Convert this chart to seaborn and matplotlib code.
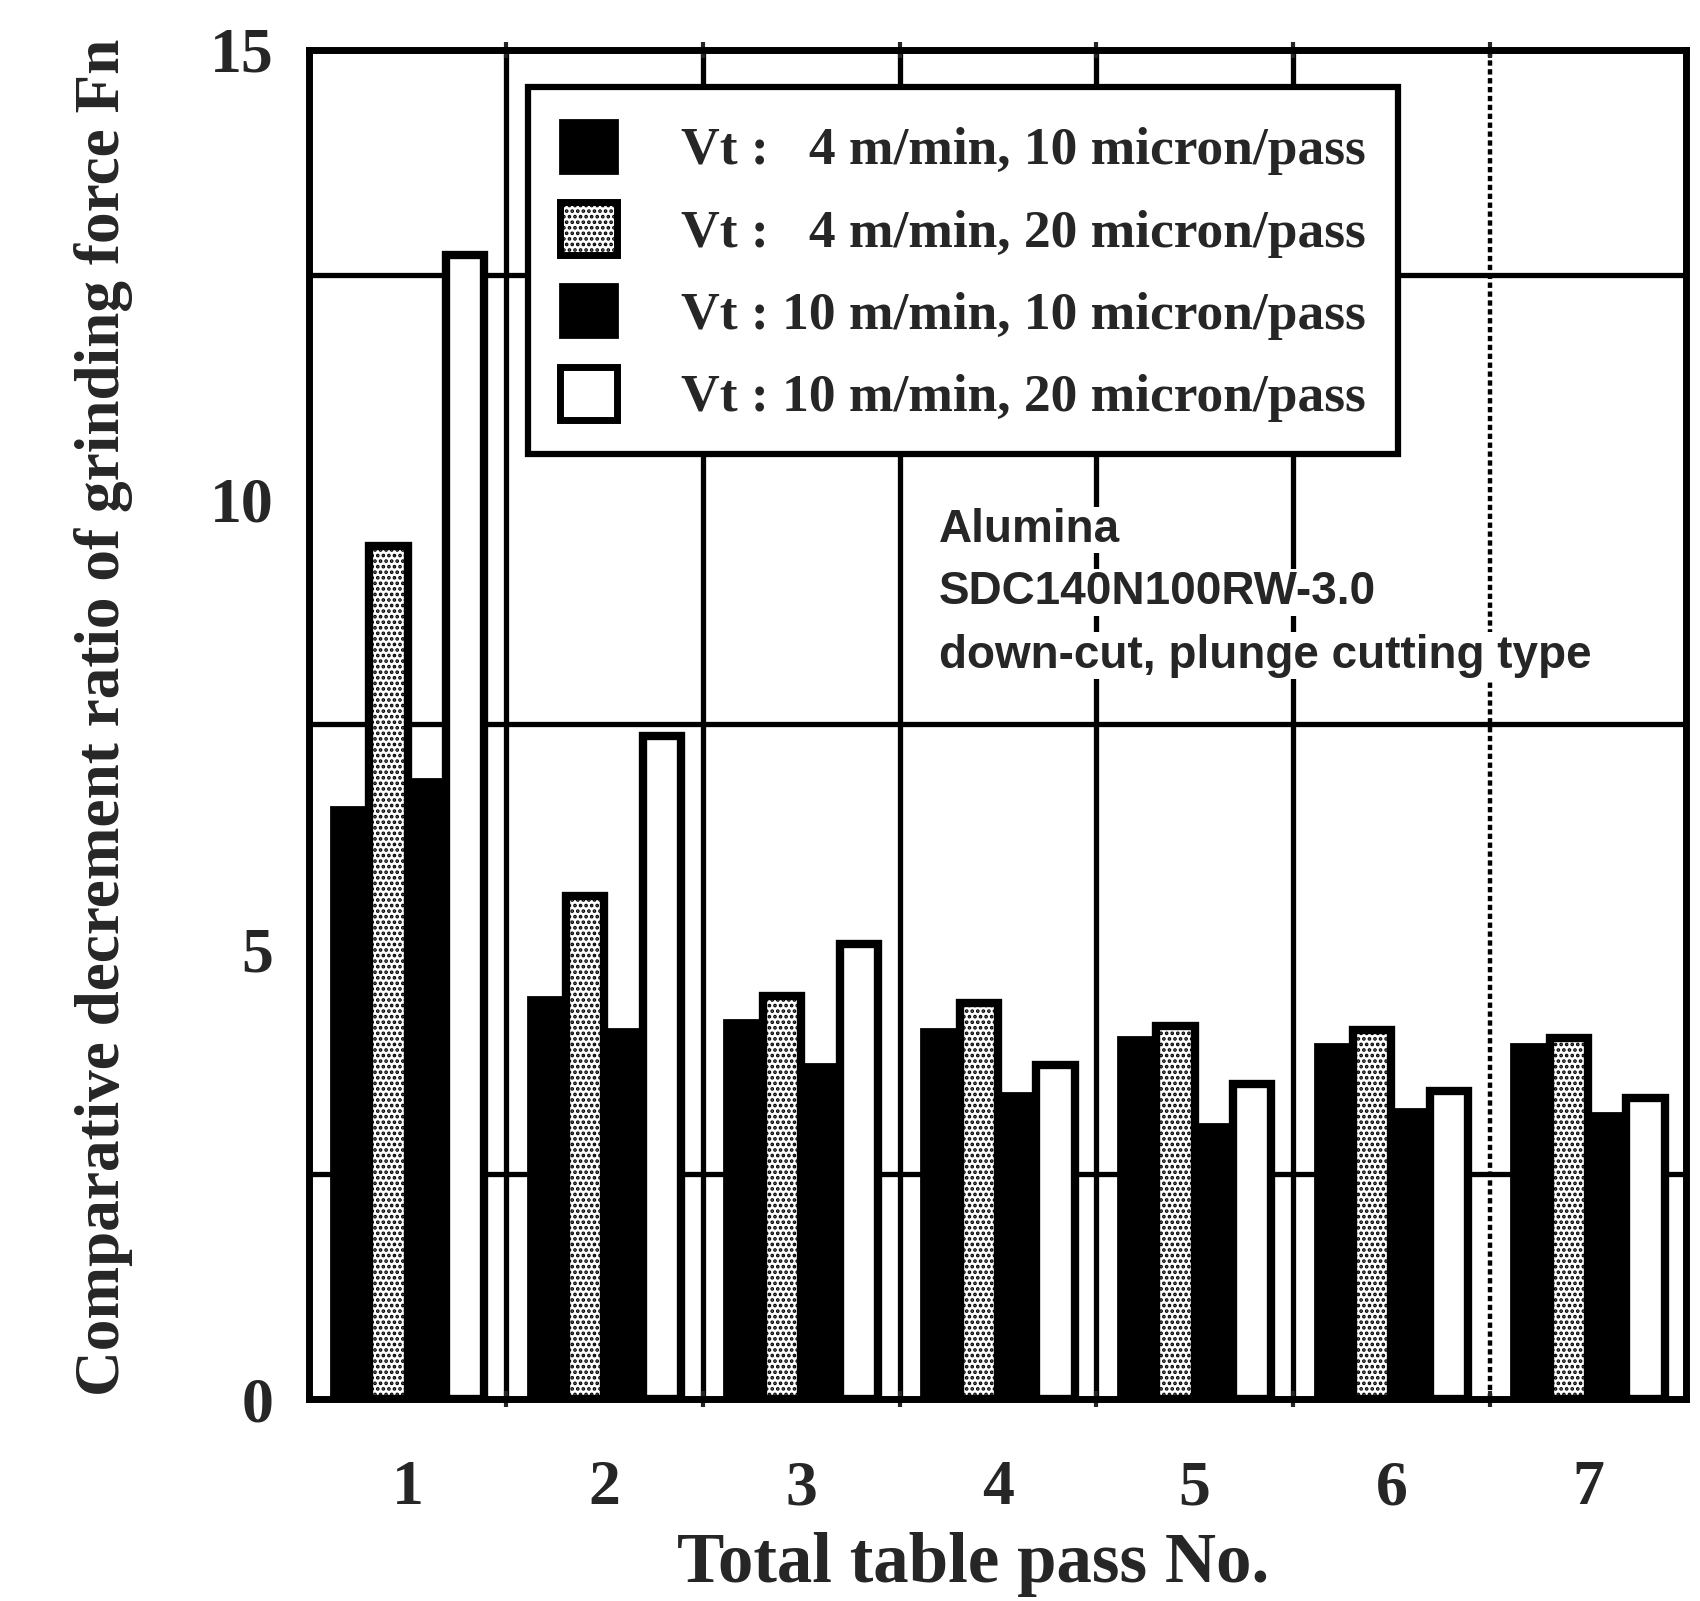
import matplotlib
matplotlib.use("Agg")
import matplotlib.pyplot as plt
from matplotlib.patches import Patch
import seaborn as sns
import pandas as pd

# ---- data ----
passes = ["1", "2", "3", "4", "5", "6", "7"]
conditions = [
    "Vt :   4 m/min, 10 micron/pass",
    "Vt :   4 m/min, 20 micron/pass",
    "Vt : 10 m/min, 10 micron/pass",
    "Vt : 10 m/min, 20 micron/pass",
]
v4_10 = [6.58, 4.47, 4.21, 4.12, 4.03, 3.95, 3.95]
v4_20 = [9.48, 5.59, 4.48, 4.40, 4.15, 4.10, 4.02]
v10_10 = [6.89, 4.12, 3.73, 3.40, 3.06, 3.23, 3.18]
v10_20 = [12.72, 7.37, 5.06, 3.72, 3.50, 3.43, 3.35]
series = [v4_10, v4_20, v10_10, v10_20]

rows = []
for cond, vals in zip(conditions, series):
    for p, v in zip(passes, vals):
        rows.append({"pass": p, "ratio": v, "cond": cond})
df = pd.DataFrame(rows)

sns.set_style("white")
plt.rcParams["font.family"] = ["Liberation Serif", "DejaVu Serif"]
plt.rcParams["hatch.linewidth"] = 1.8

fig = plt.figure(figsize=(17, 16.01), dpi=100)
ax = fig.add_axes([0.182, 0.126, 0.81, 0.843])

# grid lines behind bars
for y in [2.5, 7.5, 12.5]:
    ax.axhline(y, color="black", lw=3.8, zorder=0.5)
for x in [0.5, 1.5, 2.5, 3.5, 4.5]:
    ax.axvline(x, color="black", lw=3.8, zorder=0.5)
ax.axvline(5.5, color="black", lw=3.2, ls=(0, (1.2, 0.8)), zorder=0.5)

sns.barplot(data=df, x="pass", y="ratio", hue="cond", order=passes,
            hue_order=conditions, width=0.78, gap=0, dodge=True,
            palette=["black", "white", "black", "white"], legend=False,
            ax=ax, zorder=2, saturation=1)

styles = [
    dict(facecolor="black", edgecolor="black", lw=2, hatch=None),
    dict(facecolor="white", edgecolor="black", lw=6, hatch="..."),
    dict(facecolor="black", edgecolor="black", lw=2, hatch=None),
    dict(facecolor="white", edgecolor="black", lw=6, hatch=None),
]
for cont, st in zip(ax.containers, styles):
    for bar in cont:
        bar.set_facecolor(st["facecolor"])
        bar.set_edgecolor(st["edgecolor"])
        bar.set_linewidth(st["lw"])
        if st["hatch"]:
            bar.set_hatch(st["hatch"])
        bar.set_zorder(2)

ax.set_xlim(-0.5, 6.5)
ax.set_ylim(0, 15)

for s in ax.spines.values():
    s.set_visible(True)
    s.set_color("black")
    s.set_linewidth(5)

ax.set_yticks([0, 5, 10, 15])
ax.set_yticks([2.5, 7.5, 12.5], minor=True)
ax.set_xticks(range(7))
ax.set_xticklabels(passes)
ax.set_xticks([0.5, 1.5, 2.5, 3.5, 4.5, 5.5], minor=True)
ax.tick_params(axis="y", which="major", direction="out", length=16, width=3,
               pad=10, labelsize=46)
ax.tick_params(axis="y", which="minor", direction="inout", length=14, width=3)
ax.tick_params(axis="x", which="major", length=0, pad=44, labelsize=46)
ax.tick_params(axis="x", which="minor", direction="inout", length=12, width=3,
               top=True, bottom=True)
for lab in ax.get_xticklabels() + ax.get_yticklabels():
    lab.set_fontweight("bold")

ax.set_xlabel("Total table pass No.", fontsize=51, fontweight="bold")
ax.set_ylabel("Comparative decrement ratio of grinding force Fn",
              fontsize=45.5, fontweight="bold")
ax.xaxis.set_label_coords(0.482, -0.098)
ax.yaxis.set_label_coords(-0.128, 0.505)

handles = [
    Patch(facecolor="black", edgecolor="black", lw=2),
    Patch(facecolor="white", edgecolor="black", lw=5, hatch="..."),
    Patch(facecolor="black", edgecolor="black", lw=2),
    Patch(facecolor="white", edgecolor="black", lw=5),
]
leg = ax.legend(handles, conditions, loc="upper left",
                bbox_to_anchor=(0.159, 0.972), borderaxespad=0,
                prop={"family": ["Liberation Serif"], "weight": "bold", "size": 38.5},
                handlelength=1.05, handleheight=1.15, labelspacing=0.5,
                handletextpad=1.2, borderpad=0.6, fancybox=False,
                framealpha=1, edgecolor="black")
leg.get_frame().set_linewidth(4.5)
leg.set_zorder(5)

ann_font = ["Liberation Sans Narrow", "Liberation Sans", "DejaVu Sans"]
for txt, y in zip(["Alumina", "SDC140N100RW-3.0", "down-cut, plunge cutting type"],
                  [0.644, 0.598, 0.551]):
    ax.text(0.457, y, txt, transform=ax.transAxes, ha="left", va="center",
            fontsize=33, fontweight="bold", family=ann_font, zorder=6,
            bbox=dict(facecolor="white", edgecolor="none", pad=1))

fig.savefig("out.png", dpi=100)
